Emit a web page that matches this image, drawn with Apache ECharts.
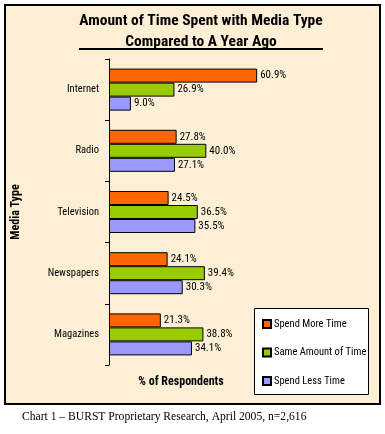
<!DOCTYPE html>
<html><head><meta charset="utf-8">
<script src="https://cdn.jsdelivr.net/npm/echarts@6/dist/echarts.min.js"></script>
<style>html,body{margin:0;padding:0;background:#fff;}#c{width:385px;height:434px;}</style>
</head><body><div id="c"></div>
<script>
var categories = ['Internet', 'Radio', 'Television', 'Newspapers', 'Magazines'];
var seriesNames = ['Spend More Time', 'Same Amount of Time', 'Spend Less Time'];
var spendMore = [60.9, 27.8, 24.5, 24.1, 21.3];
var sameAmount = [26.9, 40.0, 36.5, 39.4, 38.8];
var spendLess = [9.0, 27.1, 35.5, 30.3, 34.1];
var colors = ['#ff6600', '#99cc00', '#9999ff'];
var NARROW = '"Roboto Condensed", "Liberation Sans Narrow", "Arial Narrow", sans-serif';

var chart = echarts.init(document.getElementById('c'));
function mk(name, data, color) {
  return {
    type: 'bar', name: name, data: data, barWidth: 14, barGap: '0%',
    itemStyle: { color: color, borderColor: '#000', borderWidth: 1 },
    label: { show: true, position: 'right', distance: 3, color: '#000',
      fontFamily: NARROW, fontSize: 11,
      formatter: function (p) { return p.value.toFixed(1) + '%'; } }
  };
}
chart.setOption({
  animation: false,
  graphic: [
    { type: 'rect', z: -10, shape: { x: 5, y: 5, width: 375, height: 399 },
      style: { fill: '#fcefd6', stroke: '#000', lineWidth: 2 } },
    { type: 'text', x: 201, y: 21, style: { text: 'Amount of Time Spent with Media Type', font: 'bold 15.5px ' + NARROW, fill: '#000', textAlign: 'center', textVerticalAlign: 'middle' } },
    { type: 'text', x: 201, y: 42, style: { text: 'Compared to A Year Ago', font: 'bold 15.5px ' + NARROW, fill: '#000', textAlign: 'center', textVerticalAlign: 'middle' } },
    { type: 'line', shape: { x1: 79, y1: 49, x2: 323, y2: 49 }, style: { stroke: '#000', lineWidth: 2 } },
    { type: 'text', x: 181, y: 382, style: { text: '% of Respondents', font: 'bold 12px ' + NARROW, fill: '#000', textAlign: 'center', textVerticalAlign: 'middle' } },
    { type: 'rect', z: 1, shape: { x: 254.5, y: 308.5, width: 114, height: 86 },
      style: { fill: '#fff', stroke: '#000', lineWidth: 1 } },
    { type: 'text', x: 22, y: 417, style: { text: 'Chart 1 \u2013 BURST Proprietary Research, April 2005, n=2,616', font: '11.6px "Liberation Serif", "Times New Roman", serif', fill: '#000', textVerticalAlign: 'middle' } }
  ],
  legend: {
    orient: 'vertical', left: 262, top: 318, padding: 0, itemWidth: 8, itemHeight: 8, itemGap: 16.5,
    icon: 'rect', z: 5,
    textStyle: { fontFamily: NARROW, fontSize: 10.5, color: '#000', lineHeight: 12, padding: [0, 0, 0, -2] },
    data: seriesNames
  },
  grid: { left: 109, top: 59, width: 170.3, height: 306, containLabel: false },
  xAxis: { type: 'value', min: 0, max: 70, show: false },
  yAxis: {
    type: 'category', data: categories, inverse: true,
    name: 'Media Type', nameLocation: 'middle', nameRotate: 90, nameGap: 87,
    nameTextStyle: { fontFamily: NARROW, fontSize: 12, fontWeight: 'bold', color: '#000' },
    axisLine: { show: true, lineStyle: { color: '#000', width: 1 } },
    axisTick: { show: true, length: 4, lineStyle: { color: '#000' } },
    axisLabel: { margin: 10, fontFamily: NARROW, fontSize: 10.5, color: '#000' },
    splitLine: { show: false }
  },
  series: [mk(seriesNames[0], spendMore, colors[0]), mk(seriesNames[1], sameAmount, colors[1]), mk(seriesNames[2], spendLess, colors[2])]
});
</script></body></html>
